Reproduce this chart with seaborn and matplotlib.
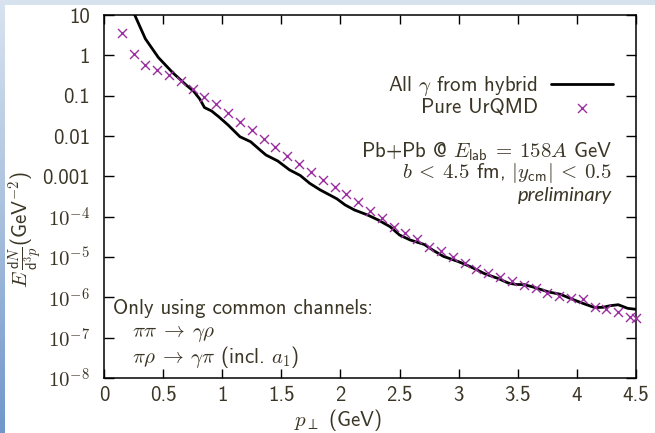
import numpy as np
import pandas as pd
import seaborn as sns
import matplotlib.pyplot as plt
from matplotlib.ticker import FixedLocator, LogLocator, NullFormatter
from matplotlib.colors import LinearSegmentedColormap

# All gamma from hybrid (black line)
hybrid_pt = [0.24, 0.26, 0.35, 0.46, 0.58, 0.69, 0.76, 0.81, 0.85, 0.91, 0.97,
             1.05, 1.15, 1.24, 1.32, 1.37, 1.47, 1.57, 1.66, 1.74, 1.83, 1.91,
             1.97, 2.04, 2.12, 2.23, 2.32, 2.42, 2.50, 2.59, 2.71, 2.78, 2.87,
             3.00, 3.10, 3.22, 3.33, 3.42, 3.49, 3.55, 3.63, 3.76, 3.86, 3.95,
             4.05, 4.15, 4.22, 4.28, 4.35, 4.43, 4.50]
hybrid_yield = [15.0, 10.0, 2.57, 0.883, 0.375, 0.189, 0.127, 0.0826, 0.0508, 0.0417, 0.0301,
                0.0187, 9.59e-3, 7.21e-3, 4.50e-3, 3.38e-3, 2.40e-3, 1.44e-3, 1.05e-3, 6.71e-4, 4.58e-4, 3.44e-4,
                2.77e-4, 1.95e-4, 1.46e-4, 1.10e-4, 8.26e-5, 5.64e-5, 3.51e-5, 2.64e-5, 2.04e-5, 1.49e-5, 1.04e-5,
                7.64e-6, 5.74e-6, 3.85e-6, 2.96e-6, 2.26e-6, 2.08e-6, 2.08e-6, 1.80e-6, 1.36e-6, 1.19e-6, 9.25e-7,
                7.10e-7, 5.58e-7, 5.65e-7, 6.19e-7, 6.56e-7, 5.33e-7, 5.05e-7]

# Pure UrQMD (crosses)
urqmd_pt = [0.15, 0.25, 0.35, 0.45, 0.55, 0.65, 0.75, 0.85, 0.95, 1.05, 1.15,
            1.25, 1.35, 1.45, 1.55, 1.65, 1.75, 1.85, 1.95, 2.05, 2.15, 2.25,
            2.35, 2.45, 2.55, 2.65, 2.75, 2.85, 2.95, 3.05, 3.15, 3.25, 3.35,
            3.45, 3.55, 3.65, 3.75, 3.85, 3.95, 4.05, 4.15, 4.25, 4.35, 4.45, 4.50]
urqmd_yield = [3.64, 1.06, 0.575, 0.433, 0.319, 0.234, 0.149, 0.0944, 0.0617, 0.0380, 0.0226,
               0.0141, 8.32e-3, 5.37e-3, 3.16e-3, 2.00e-3, 1.30e-3, 8.13e-4, 5.37e-4, 3.58e-4, 2.29e-4, 1.41e-4,
               9.12e-5, 5.62e-5, 3.89e-5, 2.79e-5, 1.80e-5, 1.43e-5, 9.77e-6, 6.92e-6, 4.95e-6, 4.07e-6, 3.24e-6,
               2.57e-6, 2.02e-6, 1.66e-6, 1.30e-6, 1.07e-6, 9.44e-7, 8.91e-7, 5.89e-7, 5.01e-7, 4.42e-7, 3.31e-7, 3.02e-7]

xtick_vals = [0, 0.5, 1, 1.5, 2, 2.5, 3, 3.5, 4, 4.5]
xtick_labels = ['0', '0.5', '1', '1.5', '2', '2.5', '3', '3.5', '4', '4.5']
ytick_vals = [10, 1, 0.1, 0.01, 0.001, 1e-4, 1e-5, 1e-6, 1e-7, 1e-8]
ytick_labels = ['10', '1', '0.1', '0.01', '0.001',
                r'$\mathsf{10}^{\mathsf{-4}}$', r'$\mathsf{10}^{\mathsf{-5}}$', r'$\mathsf{10}^{\mathsf{-6}}$',
                r'$\mathsf{10}^{\mathsf{-7}}$', r'$\mathsf{10}^{\mathsf{-8}}$']

df_hyb = pd.DataFrame({'pt': hybrid_pt, 'y': hybrid_yield})
df_urq = pd.DataFrame({'pt': urqmd_pt, 'y': urqmd_yield})

sns.set_style('ticks')
plt.rcParams['font.family'] = ['cmss10', 'DejaVu Sans']
plt.rcParams['mathtext.fontset'] = 'cm'
plt.rcParams['axes.unicode_minus'] = False

txtcol = '#3b3525'
fs = 15
W, H = 655, 433
fig = plt.figure(figsize=(W / 100, H / 100), dpi=100)
fig.patch.set_facecolor('white')

# slide background strips
top = fig.add_axes([0, 1 - 5 / H, 1, 5 / H])
top.set_axis_off()
top.add_patch(plt.Rectangle((0, 0), 1, 1, transform=top.transAxes, color='#d6e2ee'))
left = fig.add_axes([0, 0, 5 / W, 1])
left.set_axis_off()
grad = np.linspace(0, 1, 256).reshape(-1, 1)
cmap = LinearSegmentedColormap.from_list('slide', ['#d8e3ef', '#a9c0dd', '#7096cb'])
left.imshow(grad, aspect='auto', cmap=cmap, extent=[0, 1, 0, 1], origin='upper')

x0, x1, y0, y1 = 104, 636, 15, 378
ax = fig.add_axes([x0 / W, 1 - y1 / H, (x1 - x0) / W, (y1 - y0) / H])

def axc(px, py):
    return (px - x0) / (x1 - x0), 1 - (py - y0) / (y1 - y0)

sns.lineplot(data=df_hyb, x='pt', y='y', color='black', linewidth=2.0, ax=ax,
             label=r'All $\gamma$ from hybrid', sort=False)
sns.scatterplot(data=df_urq, x='pt', y='y', marker='x', s=42, color='#9b2fa0',
                linewidth=1.0, ax=ax, label='Pure UrQMD', zorder=3, clip_on=False)

ax.set_yscale('log')
ax.set_xlim(0, 4.5)
ax.set_ylim(1e-8, 10)
ax.xaxis.set_major_locator(FixedLocator(xtick_vals))
ax.set_xticklabels(xtick_labels)
ax.yaxis.set_major_locator(FixedLocator(ytick_vals))
ax.set_yticklabels(ytick_labels)
ax.yaxis.set_minor_locator(LogLocator(base=10, subs=np.arange(2, 10)))
ax.yaxis.set_minor_formatter(NullFormatter())
ax.tick_params(which='both', direction='in', top=True, right=True, colors='black',
               labelcolor=txtcol, labelsize=fs, width=1.0)
ax.tick_params(axis='x', which='major', length=6.5, pad=6)
ax.tick_params(axis='y', which='major', length=7, pad=10)
ax.tick_params(axis='y', which='minor', length=4)
for s in ax.spines.values():
    s.set_linewidth(1.1)
    s.set_color('black')

ax.set_xlabel(r'$p_\perp$ (GeV)', fontsize=fs, color=txtcol)
ax.xaxis.set_label_coords(0.44, -0.08)
ax.set_ylabel(r'$E\,\frac{\mathsf{d}N}{\mathsf{d}^3p}$(GeV$^{-2}$)', fontsize=fs, color=txtcol)
ax.yaxis.set_label_coords(-0.112, 0.41)

lx, ly = axc(613, 74)
ax.legend(loc='upper right', bbox_to_anchor=(lx, ly), frameon=False, markerfirst=False,
          handlelength=3.0, handletextpad=0.6, labelspacing=0.0, fontsize=fs,
          borderpad=0, borderaxespad=0, labelcolor=txtcol)

tx, ty = axc(612, 152)
ax.text(tx, ty, r'Pb+Pb @ $E_{\mathsf{lab}}\:=\:\mathsf{158}A$ GeV', transform=ax.transAxes,
        ha='right', va='center', fontsize=fs, color=txtcol)
tx, ty = axc(612, 173)
ax.text(tx, ty, r'$b\:<\:\mathsf{4.5}$ fm, $|y_{\mathsf{cm}}|\:<\:\mathsf{0.5}$', transform=ax.transAxes,
        ha='right', va='center', fontsize=fs, color=txtcol)
tx, ty = axc(612, 195)
ax.text(tx, ty, 'preliminary', transform=ax.transAxes, ha='right', va='center',
        fontsize=fs - 0.5, color=txtcol, family=['Lato', 'DejaVu Sans'], style='italic')

tx, ty = axc(113, 309)
ax.text(tx, ty, 'Only using common channels:', transform=ax.transAxes,
        ha='left', va='center', fontsize=fs, color=txtcol)
tx, ty = axc(132, 334)
ax.text(tx, ty, r'$\pi\pi\:\to\:\gamma\rho$', transform=ax.transAxes,
        ha='left', va='center', fontsize=fs, color=txtcol)
tx, ty = axc(132, 357)
ax.text(tx, ty, r'$\pi\rho\:\to\:\gamma\pi$ (incl. $a_{\mathsf{1}}$)', transform=ax.transAxes,
        ha='left', va='center', fontsize=fs, color=txtcol)

fig.savefig('out.png', dpi=100)
